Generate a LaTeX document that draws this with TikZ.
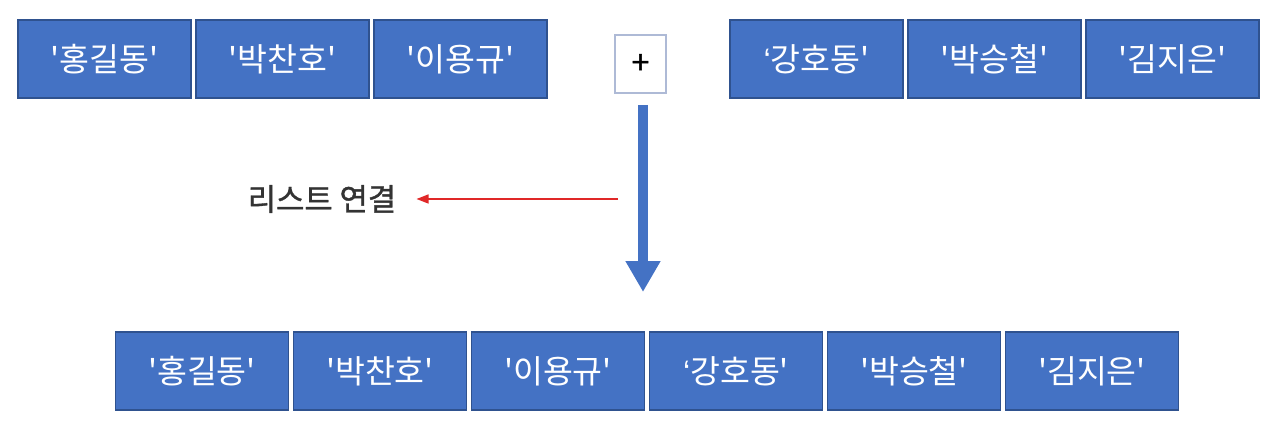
\documentclass[tikz,border=0pt]{standalone}
\usepackage{fontspec}
\newfontfamily\krfont{Noto Sans CJK KR}
\newfontfamily\krboldfont[FakeBold=1.2]{Noto Sans CJK KR}
\newfontfamily\quotefont{Liberation Sans}
\usetikzlibrary{arrows.meta}

\definecolor{cellblue}{HTML}{4472C4}
\definecolor{cellborder}{HTML}{2F528F}
\definecolor{plusborder}{HTML}{AEBAD6}
\definecolor{arrowred}{HTML}{E02828}
\definecolor{labelgray}{HTML}{333333}

\newcommand\openq{{\quotefont ‘}}

\tikzset{
  cell/.style={draw=cellborder, fill=cellblue, line width=1pt, text=white,
    minimum width=3.46cm, minimum height=1.56cm, inner sep=0pt,
    font=\krfont\fontsize{18.5}{18}\selectfont},
  plusbox/.style={draw=plusborder, fill=white, line width=0.8pt,
    minimum width=1.02cm, minimum height=1.16cm, inner sep=0pt,
    font=\krboldfont\fontsize{18}{18}\selectfont},
  flowarrow/.style={draw=cellblue, line width=0.2cm,
    -{Triangle[width=0.66cm,length=0.62cm]}},
  joinarrow/.style={draw=arrowred, line width=0.8pt,
    -{Triangle[width=0.18cm,length=0.24cm]}},
}

\begin{document}
\begin{tikzpicture}[x=0.02cm,y=-0.02cm]
   \useasboundingbox (0,0) rectangle (1271,431);

   % the two lists
   \foreach \name [count=\i] in {'홍길동', '박찬호', '이용규'}
      \node[cell] (a\i) at (104.5+178*\i-178,59) {\name};
   \foreach \name [count=\i] in {\openq 강호동', '박승철', '김지은'}
      \node[cell] (b\i) at (816.5+178*\i-178,59) {\name};

   \node[plusbox] (plus) at (640.5,64) {+};

   % joined list
   \foreach \name [count=\i] in {'홍길동', '박찬호', '이용규', \openq 강호동', '박승철', '김지은'}
      \node[cell] (c\i) at (202+178*\i-178,371) {\name};

   \coordinate (flowtop) at (643,105);
   \coordinate (flowtip) at (643,292);
   \draw[flowarrow] (flowtop) -- (flowtip);

   \node[text=labelgray, inner sep=0pt, font=\krboldfont\fontsize{17.5}{18}\selectfont] (concat) at (322,199) {리스트 연결};
   \coordinate (joinstart) at (618,199);
   \draw[joinarrow, shorten >=0.4cm] (joinstart) -- (concat.east);
\end{tikzpicture}
\end{document}
